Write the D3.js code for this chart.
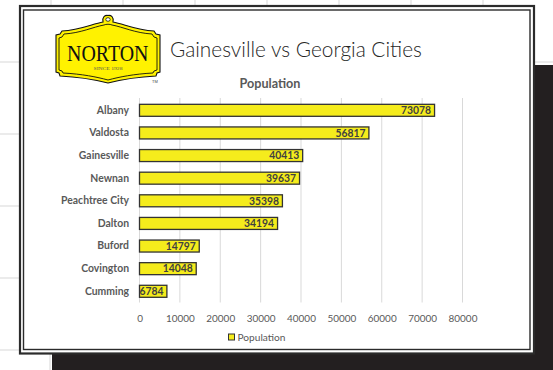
<!DOCTYPE html>
<html>
<head>
<meta charset="utf-8">
<script src="https://cdn.jsdelivr.net/npm/d3@7"></script>
<style>
  html, body { margin: 0; padding: 0; background: #fff; }
  svg { display: block; }
</style>
</head>
<body>
<svg id="chart" width="553" height="370"></svg>
<script>
// City populations
const cities = ["Albany", "Valdosta", "Gainesville", "Newnan", "Peachtree City", "Dalton", "Buford", "Covington", "Cumming"];
const population = [73078, 56817, 40413, 39637, 35398, 34194, 14797, 14048, 6784];
const xTicks = [0, 10000, 20000, 30000, 40000, 50000, 60000, 70000, 80000];
const seriesName = "Population";
const chartTitle = "Gainesville vs Georgia Cities";

const W = 553, H = 370;
const svg = d3.select("#chart");
const FONT = "Lato, 'Open Sans', sans-serif";

// font size that makes a sample string span a given width
function fitSize(sample, weight, width, family = FONT) {
  const t = svg.append("text").attr("font-family", family).attr("font-weight", weight)
    .attr("font-size", 20).text(sample);
  const w = t.node().getComputedTextLength();
  t.remove();
  return 20 * width / w;
}
const catSize = fitSize("Peachtree City", 700, 68);
const valSize = fitSize("73078", 700, 30);
const tickSize = fitSize("80000", 400, 28.8);
const legSize = fitSize("Population", 400, 48);
const subSize = fitSize("Population", 700, 61);

// --- worksheet cells behind the chart ---
const sheet = svg.append("g").attr("stroke", "#e4e4e4").attr("stroke-width", 1.5);
const colsTop = [51, 123, 195, 267, 339, 411, 483];
const colsBottom = [50, 117, 185, 252, 321, 389, 457];
const rows = [62, 134, 206, 278, 350];
colsTop.forEach(x => sheet.append("line").attr("x1", x).attr("x2", x).attr("y1", 0).attr("y2", 10));
colsBottom.forEach(x => sheet.append("line").attr("x1", x).attr("x2", x).attr("y1", 350).attr("y2", H));
rows.forEach(y => sheet.append("line").attr("x1", 0).attr("x2", W).attr("y1", y).attr("y2", y));

// drop shadow block
svg.append("rect").attr("x", 52).attr("y", 65).attr("width", W - 52).attr("height", H - 65)
  .attr("fill", "#231f20");

// chart frame with double border
svg.append("rect").attr("x", 20).attr("y", 6).attr("width", 514).attr("height", 347.5)
  .attr("fill", "#fff").attr("stroke", "#2b2b2b").attr("stroke-width", 2.2);
svg.append("rect").attr("x", 23.5).attr("y", 10).attr("width", 506.5).attr("height", 339.5)
  .attr("fill", "none").attr("stroke", "#2b2b2b").attr("stroke-width", 1.4);

// --- logo ---
const logo = svg.append("g");
logo.append("path")
  .attr("d", "M103,22 C92,24 80,30 62,31 L60,34 L56,35 L56,72 L59,73 L60,76 C80,77 96,80 108,83 C120,80 136,77 156,76 L157,73 L160,72 L160,35 L156,34 L154,31 C136,30 124,24 113,22 C114,17 111,15 108,15.5 C105,15 102,17 103,22 Z")
  .attr("fill", "#fff200").attr("stroke", "#111").attr("stroke-width", 1.1);
logo.append("path")
  .attr("d", "M104,25 C93,27 81,33 64,34 L62,37 L59,38 L59,70 L62,71 L63,73 C82,74 97,77 108,80 C119,77 134,74 153,73 L154,71 L157,70 L157,38 L154,37 L152,34 C135,33 123,27 112,25 C110,24 106,24 104,25 Z")
  .attr("fill", "none").attr("stroke", "#111").attr("stroke-width", 0.9);
logo.append("ellipse").attr("cx", 108).attr("cy", 19.5).attr("rx", 2.2).attr("ry", 1.8)
  .attr("fill", "#fff").attr("stroke", "#111").attr("stroke-width", 0.8);
logo.append("text").attr("x", 67).attr("y", 60.5)
  .attr("font-family", "'Liberation Serif', 'DejaVu Serif', serif").attr("font-size", 23)
  .attr("textLength", 81.5).attr("lengthAdjust", "spacingAndGlyphs")
  .attr("fill", "#111").text("NORTON");
logo.append("text").attr("x", 108).attr("y", 69.5).attr("text-anchor", "middle")
  .attr("font-family", "'Liberation Serif', serif").attr("font-size", 4.8)
  .attr("textLength", 29).attr("lengthAdjust", "spacingAndGlyphs")
  .attr("fill", "#555").text("SINCE 1928");
logo.append("text").attr("x", 152).attr("y", 82.5).attr("font-family", "'Liberation Sans', sans-serif")
  .attr("font-size", 4).attr("fill", "#444").text("TM");

// --- titles ---
const title = svg.append("text").attr("x", 170).attr("y", 57)
  .attr("font-family", FONT).attr("font-weight", 300).attr("font-size", 20)
  .attr("fill", "#262626").text(chartTitle);
// fit title to its span
const tw = title.node().getComputedTextLength();
title.attr("font-size", 20 * 252 / tw);

svg.append("text").attr("x", 270).attr("y", 83.5).attr("dy", "0.36em").attr("text-anchor", "middle")
  .attr("font-family", FONT).attr("font-weight", 700).attr("font-size", subSize)
  .attr("fill", "#595959").text(seriesName);

// --- scales ---
const x = d3.scaleLinear().domain([0, 80000]).range([139.5, 462.5]);
const y = d3.scaleBand().domain(cities).range([99, 302.6]).paddingInner(0.47).paddingOuter(0.235);

// vertical gridlines
svg.append("g").selectAll("line").data(xTicks).join("line")
  .attr("x1", d => x(d)).attr("x2", d => x(d))
  .attr("y1", 98).attr("y2", 302.5)
  .attr("stroke", "#d9d9d9").attr("stroke-width", 1);

// x axis labels
const xAxis = d3.axisBottom(x).tickValues(xTicks).tickFormat(d3.format("d")).tickSize(0).tickPadding(0);
const gx = svg.append("g").attr("transform", "translate(0,318)").call(xAxis);
gx.select(".domain").remove();
gx.selectAll("text").attr("font-family", FONT).attr("font-size", tickSize).attr("fill", "#595959")
  .attr("dy", "0.36em").attr("y", 0);

// y axis labels
const yAxis = d3.axisLeft(y).tickSize(0).tickPadding(10.5);
const gy = svg.append("g").attr("transform", "translate(139.5,0)").call(yAxis);
gy.select(".domain").remove();
gy.selectAll("text").attr("font-family", FONT).attr("font-weight", 700).attr("font-size", catSize)
  .attr("fill", "#595959");

// bars
const data = cities.map((c, i) => ({ city: c, value: population[i] }));
svg.append("g").selectAll("rect").data(data).join("rect")
  .attr("x", x(0)).attr("y", d => y(d.city))
  .attr("width", d => x(d.value) - x(0)).attr("height", y.bandwidth())
  .attr("fill", "#f5ec1c").attr("stroke", "#333").attr("stroke-width", 1.3);

// value labels (inside end)
svg.append("g").selectAll("text").data(data).join("text")
  .attr("x", d => x(d.value) - 3.5).attr("y", d => y(d.city) + y.bandwidth() / 2)
  .attr("dy", "0.36em").attr("text-anchor", "end")
  .attr("font-family", FONT).attr("font-weight", 700).attr("font-size", valSize)
  .attr("fill", "#404040").text(d => d.value);

// legend
const lg = svg.append("g");
lg.append("rect").attr("x", 228.5).attr("y", 334).attr("width", 6).attr("height", 6)
  .attr("fill", "#f5ec1c").attr("stroke", "#333").attr("stroke-width", 1);
lg.append("text").attr("x", 237.5).attr("y", 337).attr("dy", "0.36em")
  .attr("font-family", FONT).attr("font-size", legSize).attr("fill", "#595959").text(seriesName);
</script>
</body>
</html>
